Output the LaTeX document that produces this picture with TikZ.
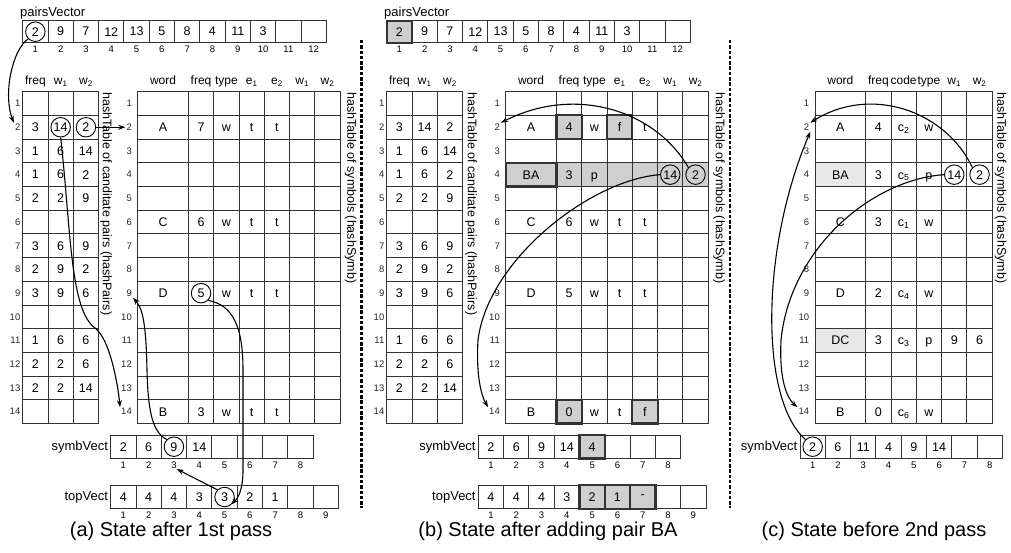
\documentclass[tikz,border=0pt]{standalone}
\usepackage{fontspec}
\setmainfont{Liberation Sans}
\usetikzlibrary{arrows.meta,positioning,calc}

\pgfdeclarelayer{background}
\pgfsetlayers{background,main}

\newcommand{\cellfont}{\fontsize{12.5}{14}\selectfont}
\newcommand{\numfont}{\fontsize{9.5}{11}\selectfont}
\newcommand{\headfont}{\fontsize{12}{14}\selectfont}
\newcommand{\lblfont}{\fontsize{13}{15}\selectfont}
\newcommand{\capfont}{\fontsize{20}{24}\selectfont}

\tikzset{
  cell/.style={draw=black!80, line width=0.9pt, minimum width=25.3pt, minimum height=23.7pt, inner sep=0pt, font=\cellfont},
  wcell/.style={cell, minimum width=50.7pt},
  vcell/.style={cell, minimum height=23.5pt},
  pcell/.style={cell, minimum height=22pt},
  rnum/.style={anchor=east, inner sep=1pt, font=\numfont, text=black!85},
  idx/.style={inner sep=0pt, font=\numfont},
  txt/.style={anchor=base, inner sep=0pt, font=\cellfont},
  head/.style={anchor=base, inner sep=0pt, font=\headfont},
  vlbl/.style={anchor=east, inner sep=0pt, font=\lblfont},
  side/.style={rotate=-90, anchor=west, inner sep=0pt, font=\cellfont},
  ring/.style={circle, draw, line width=0.9pt, minimum size=19.5pt, inner sep=0pt},
  hl/.style={cell, fill=black!19, line width=2.2pt},
  rowhl/.style={cell, fill=black!19, draw=none},
  soft/.style={cell, fill=black!9, draw=none},
  conn/.style={-{Stealth[length=7pt,width=5pt]}, line width=1.1pt},
  sep/.style={line width=2.2pt, dash pattern=on 3.5pt off 1.8pt},
  caption/.style={anchor=base, inner sep=0pt, font=\capfont}
}

\begin{document}
\begin{tikzpicture}[x=1pt, y=-1pt, >=Stealth]
\useasboundingbox (0,0) rectangle (1011,553);

  % pairsVector of panels (a) and (b)
\foreach \p/\dx in {a/0, b/364}{
  \node[vlbl, anchor=base west] (\p PVl) at ({20+\dx}, 16.5) {pairsVector};
  \foreach \v [count=\i] in {2,9,7,12,13,5,8,4,11,3,{},{}}{
    \node[pcell] (\p PV\i) at ({22.7+\dx+25.3*(\i-0.5)}, 31.7) {\v};
    \node[idx] (\p PVi\i) at ({22.7+\dx+25.3*(\i-0.5)}, 49.5) {\i};
  }
}

  % hashPairs tables
\foreach \p/\dx in {a/0, b/364}{
  \foreach \row/\fq/\wa/\wb in {1/{}/{}/{}, 2/3/14/2, 3/1/6/14, 4/1/6/2, 5/2/2/9, 6/{}/{}/{}, 7/3/6/9, 8/2/9/2, 9/3/9/6, 10/{}/{}/{}, 11/1/6/6, 12/2/2/6, 13/2/2/14, 14/{}/{}/{}}{
    \node[rnum] (\p Pn\row) at ({21.5+\dx}, {91.7+23.7*(\row-0.5)}) {\row};
    \node[cell] (\p P\row-1) at ({35.35+\dx}, {91.7+23.7*(\row-0.5)}) {\fq};
    \node[cell] (\p P\row-2) at ({60.65+\dx}, {91.7+23.7*(\row-0.5)}) {\wa};
    \node[cell] (\p P\row-3) at ({85.95+\dx}, {91.7+23.7*(\row-0.5)}) {\wb};
  }
  \foreach \t [count=\col] in {freq, w\textsubscript{1}, w\textsubscript{2}}
    \node[head] (\p Ph\col) at ([yshift=6.5pt]\p P1-\col.north) {\t};
}
\node[side] (aPside) at (106, 92) {hashTable of canditate pairs (hashPairs)};
\node[side] (bPside) at (471, 92) {hashTable of canditate pairs (hashPairs)};

  % hashSymb tables
\foreach \p/\dx/\n in {a/0/7, b/368/7, c/677.3/6}{
  \foreach \row in {1,...,14}{
    \node[rnum] (\p Sn\row) at ({133+\dx}, {91.7+23.7*(\row-0.5)}) {\row};
    \node[wcell] (\p S\row-1) at ({163.05+\dx}, {91.7+23.7*(\row-0.5)}) {};
    \foreach \col in {2,...,\n}
      \node[cell] (\p S\row-\col) at ({188.4+\dx+25.3*(\col-1.5)}, {91.7+23.7*(\row-0.5)}) {};
  }
}
\foreach \t [count=\col] in {word, freq, type, e\textsubscript{1}, e\textsubscript{2}, w\textsubscript{1}, w\textsubscript{2}}{
  \node[head] (aSh\col) at ([yshift=6.5pt]aS1-\col.north) {\t};
  \node[head] (bSh\col) at ([yshift=6.5pt]bS1-\col.north) {\t};
}
\foreach \t [count=\col] in {word, freq, code, type, w\textsubscript{1}, w\textsubscript{2}}
  \node[head] (cSh\col) at ([yshift=6.5pt]cS1-\col.north) {\t};
\node[side] (aSside) at (350.5, 92) {hashTable of symbols (hashSymb)};
\node[side] (bSside) at (719, 92) {hashTable of symbols (hashSymb)};
\node[side] (cSside) at (1000.5, 92) {hashTable of symbols (hashSymb)};

\foreach \row/\col/\t in {2/1/A, 2/2/7, 2/3/w, 2/4/t, 2/5/t, 6/1/C, 6/2/6, 6/3/w, 6/4/t, 6/5/t, 9/1/D, 9/2/5, 9/3/w, 9/4/t, 9/5/t, 14/1/B, 14/2/3, 14/3/w, 14/4/t, 14/5/t}
  \node[txt] (aT\row-\col) at ([yshift=-4.4pt]aS\row-\col.center) {\t};
\foreach \row/\col/\t in {2/1/A, 2/2/4, 2/3/w, 2/4/f, 2/5/t, 4/1/BA, 4/2/3, 4/3/p, 4/6/14, 4/7/2, 6/1/C, 6/2/6, 6/3/w, 6/4/t, 6/5/t, 9/1/D, 9/2/5, 9/3/w, 9/4/t, 9/5/t, 14/1/B, 14/2/0, 14/3/w, 14/4/t, 14/5/f}
  \node[txt] (bT\row-\col) at ([yshift=-4.4pt]bS\row-\col.center) {\t};
\foreach \row/\col/\t in {2/1/A, 2/2/4, 2/3/c\textsubscript{2}, 2/4/w, 4/1/BA, 4/2/3, 4/3/c\textsubscript{5}, 4/4/p, 4/5/14, 4/6/2, 6/1/C, 6/2/3, 6/3/c\textsubscript{1}, 6/4/w, 9/1/D, 9/2/2, 9/3/c\textsubscript{4}, 9/4/w, 11/1/DC, 11/2/3, 11/3/c\textsubscript{3}, 11/4/p, 11/5/9, 11/6/6, 14/1/B, 14/2/0, 14/3/c\textsubscript{6}, 14/4/w}
  \node[txt] (cT\row-\col) at ([yshift=-4.4pt]cS\row-\col.center) {\t};

  % symbVect and topVect
\node[vlbl] (aSVl) at (108.2, 446.7) {symbVect};
\foreach \v [count=\i] in {2,6,9,14,{},{},{},{}}{
  \node[vcell] (aSV\i) at ({110.7+25.3*(\i-0.5)}, 446.7) {\v};
  \node[idx] (aSVi\i) at ({110.7+25.3*(\i-0.5)}, 465.5) {\i};
}
\node[vlbl] (aTVl) at (108.2, 497) {topVect};
\foreach \v [count=\i] in {4,4,4,3,3,2,1,{},{}}{
  \node[vcell] (aTV\i) at ({110.7+25.3*(\i-0.5)}, 497) {\v};
  \node[idx] (aTVi\i) at ({110.7+25.3*(\i-0.5)}, 515.5) {\i};
}
\node[vlbl] (bSVl) at (475.8, 446.7) {symbVect};
\foreach \v [count=\i] in {2,6,9,14,4,{},{},{}}{
  \node[vcell] (bSV\i) at ({478.3+25.3*(\i-0.5)}, 446.7) {\v};
  \node[idx] (bSVi\i) at ({478.3+25.3*(\i-0.5)}, 465.5) {\i};
}
\node[vlbl] (bTVl) at (475.8, 497) {topVect};
\foreach \v [count=\i] in {4,4,4,3,2,1,-,{},{}}{
  \node[vcell] (bTV\i) at ({478.3+25.3*(\i-0.5)}, 497) {\v};
  \node[idx] (bTVi\i) at ({478.3+25.3*(\i-0.5)}, 515.5) {\i};
}
\node[vlbl] (cSVl) at (797.5, 446.7) {symbVect};
\foreach \v [count=\i] in {2,6,11,4,9,14,{},{}}{
  \node[vcell] (cSV\i) at ({800+25.3*(\i-0.5)}, 446.7) {\v};
  \node[idx] (cSVi\i) at ({800+25.3*(\i-0.5)}, 465.5) {\i};
}

  % shaded cells
\begin{pgfonlayer}{background}
  \node[hl, minimum height=22pt] (bHv1) at (bPV1) {};
  \node[hl] (bH2-2) at (bS2-2) {}; \node[hl] (bH2-4) at (bS2-4) {};
  \foreach \col in {2,...,7} \node[rowhl] (bH4-\col) at (bS4-\col) {};
  \node[hl, minimum width=50.7pt] (bH4-1) at (bS4-1) {};
  \node[hl] (bH14-2) at (bS14-2) {}; \node[hl] (bH14-5) at (bS14-5) {};
  \node[hl, minimum height=23.5pt] (bHsv5) at (bSV5) {};
  \foreach \i in {5,6,7} \node[hl, minimum height=23.5pt] (bHtv\i) at (bTV\i) {};
  \node[soft, minimum width=50.7pt] (cH4) at (cS4-1) {}; \node[soft, minimum width=50.7pt] (cH11) at (cS11-1) {};
\end{pgfonlayer}

  % circled entries
\node[ring] (aR1) at (aPV1) {}; \node[ring] (aR14) at (aP2-2) {}; \node[ring] (aR2) at (aP2-3) {};
\node[ring] (aR5) at (aS9-2) {}; \node[ring] (aR9) at (aSV3) {}; \node[ring] (aR3) at (aTV5) {};
\node[ring] (bR14) at (bS4-6) {}; \node[ring] (bR2) at (bS4-7) {};
\node[ring] (cR14) at (cS4-5) {}; \node[ring] (cR2) at (cS4-6) {}; \node[ring] (cRv) at (cSV1) {};

  % separators
\draw[sep] (361.5,40) -- (361.5,508);
\draw[sep] (730,40) -- (730,508);

  % Draw arrows between nodes
\draw[conn] (aR1.south west) .. controls (12,50) and (3,95) .. (aPn2.north west);
\draw[conn] (aR2.east) -- (aSn2.west);
\draw[conn] (aR14.south) .. controls (71,230) and (70,310) .. (95,328) .. controls (110,339) and (118,385) .. (aSn14.north west);
\draw[conn] (aR5.south east) .. controls (232,305) and (243,325) .. (243,370) -- (243,470) .. controls (243,490) and (238,498) .. (aR3.south east);
\draw[conn] (aR3.north west) -- (aSVi3.south east);
\draw[conn] (aR9.north west) .. controls (152,432) and (148,410) .. (147,370) .. controls (146,320) and (142,308) .. (aSn9.south east);
\draw[conn] (bR2.north west) .. controls (655,110) and (575,85) .. (bSn2.north east);
\draw[conn] (bR14.west) .. controls (590,180) and (488,260) .. (478,340) .. controls (476,375) and (481,395) .. (bSn14.north west);
\draw[conn] (cR2.north west) .. controls (945,110) and (870,85) .. (cSn2.north east);
\draw[conn] (cR14.west) .. controls (870,180) and (790,250) .. (781,340) .. controls (779,380) and (787,398) .. (cSn14.north west);
\draw[conn] (cRv.north west) .. controls (760,400) and (760,250) .. (cSn2.south east);

  % captions
\node[caption] (capA) at (171, 536) {(a) State after 1st pass};
\node[caption] (capB) at (548, 536) {(b) State after adding pair BA};
\node[caption] (capC) at (874, 536) {(c) State before 2nd pass};

\end{tikzpicture}
\end{document}
